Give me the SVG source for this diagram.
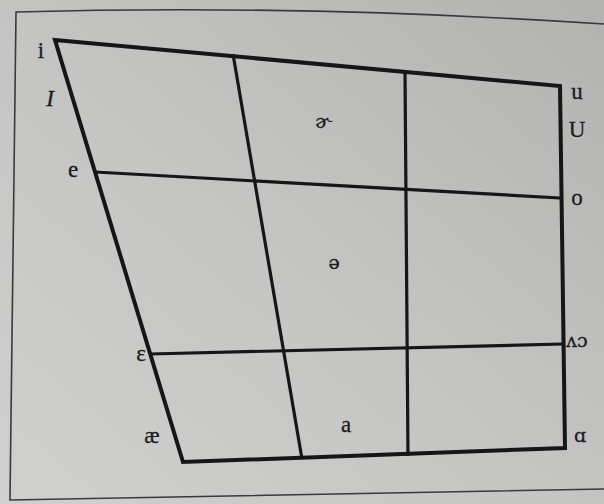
<svg xmlns="http://www.w3.org/2000/svg" width="604" height="504" viewBox="0 0 604 504">
  <defs>
    <linearGradient id="bg" x1="0" y1="1" x2="1" y2="0">
      <stop offset="0" stop-color="#d0d0ce"/>
      <stop offset="0.5" stop-color="#c4c4c2"/>
      <stop offset="1" stop-color="#b2b2b1"/>
    </linearGradient>
  </defs>
  <style>
    .frame { fill: none; stroke: #3a3a3a; stroke-width: 1.6; }
    .outer { fill: none; stroke: #161616; stroke-width: 4; stroke-linejoin: miter; }
    .grid { fill: none; stroke: #161616; stroke-width: 3.2; }
    .lbl { font-family: "Liberation Serif", "DejaVu Serif", serif; font-size: 23px; fill: #1c1c1c; text-anchor: middle; stroke: #1c1c1c; stroke-width: 0.3; }
    .ipa { font-family: "DejaVu Serif", serif; font-size: 19px; }
  </style>
  <rect x="0" y="0" width="604" height="504" fill="url(#bg)"/>
  <path class="frame" d="M604,24 Q300,4 16,12 L10,500 Q300,494 604,489"/>

  <g id="connectors">
    <polygon class="outer" points="55,40 560,86 565,448 183,462"/>
    <line class="grid" x1="95" y1="172" x2="560" y2="198"/>
    <line class="grid" x1="150" y1="354" x2="563" y2="344"/>
    <line class="grid" x1="233" y1="54" x2="302" y2="459"/>
    <line class="grid" x1="405" y1="71" x2="408" y2="456"/>
  </g>

  <g id="vowel-i"><text class="lbl" x="41" y="58">i</text></g>
  <g id="vowel-I"><text class="lbl" x="50" y="106" font-size="20" font-style="italic">I</text></g>
  <g id="vowel-e"><text class="lbl" x="73" y="177">e</text></g>
  <g id="vowel-eps"><text class="lbl" x="141" y="361">ɛ</text></g>
  <g id="vowel-ae"><text class="lbl" x="152" y="443">æ</text></g>
  <g id="vowel-schwar"><text class="lbl ipa" x="323" y="128">ɚ</text></g>
  <g id="vowel-schwa"><text class="lbl ipa" x="334" y="269">ə</text></g>
  <g id="vowel-a"><text class="lbl" x="346" y="432">a</text></g>
  <g id="vowel-u"><text class="lbl" x="577" y="99">u</text></g>
  <g id="vowel-U"><text class="lbl" x="577" y="137" font-size="21">U</text></g>
  <g id="vowel-o"><text class="lbl" x="577" y="205">o</text></g>
  <g id="vowel-vc"><text class="lbl ipa" x="577" y="347">ʌɔ</text></g>
  <g id="vowel-alpha"><text class="lbl ipa" x="580" y="442">ɑ</text></g>
</svg>
